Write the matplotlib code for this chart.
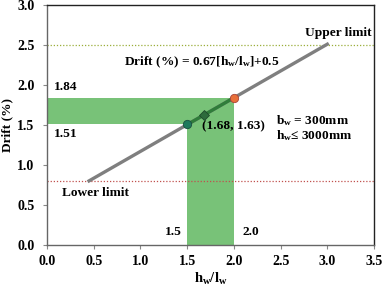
import matplotlib
matplotlib.use("Agg")
import matplotlib.pyplot as plt
import numpy as np

plt.rcParams['font.family'] = ['Liberation Serif', 'DejaVu Serif']
plt.rcParams['font.weight'] = 'bold'
plt.rcParams['mathtext.fontset'] = 'custom'
plt.rcParams['mathtext.rm'] = 'Liberation Serif:bold'
plt.rcParams['mathtext.it'] = 'Liberation Serif:bold'
plt.rcParams['mathtext.bf'] = 'Liberation Serif:bold'

# data
slope = 0.67
intercept = 0.5
line_x = [0.45, 3.0]
range_x = [1.5, 2.0]
range_y = [1.51, 1.84]
mean_pt = (1.68, 1.63)
upper_limit = 2.5
lower_limit = 0.8
xticks = [0.0, 0.5, 1.0, 1.5, 2.0, 2.5, 3.0, 3.5]
yticks = [0.0, 0.5, 1.0, 1.5, 2.0, 2.5, 3.0]

fig = plt.figure(figsize=(3.83, 2.89), dpi=100)
ax = fig.add_axes([0.1227, 0.1522, 0.8538, 0.8305])

green = '#78c278'
# shaded bands
ax.fill_between([0, range_x[1]], range_y[0], range_y[1], color=green, lw=0, zorder=1)
ax.fill_between(range_x, 0, range_y[0], color=green, lw=0, zorder=1)

# limits
ax.axhline(upper_limit, color='#9aae3a', ls=(0, (1, 1.5)), lw=0.9, zorder=2)
ax.axhline(lower_limit, color='#c0504d', ls=(0, (1, 1.5)), lw=0.9, zorder=2)

# trend line
lx = np.array(line_x)
ax.plot(lx, slope * lx + intercept, color='#7f7f7f', lw=2.4, zorder=3)
rx = np.array(range_x)
ax.plot(rx, slope * rx + intercept, color='#2f7d3a', lw=2.4, zorder=4)

ax.plot(range_x[0], range_y[0], 'o', ms=6, mfc='#1f7a5c', mec='#1b4f40', mew=0.6, zorder=5)
ax.plot(range_x[1], range_y[1], 'o', ms=6, mfc='#e8703a', mec='#a8443a', mew=0.6, zorder=5)
ax.plot(mean_pt[0], mean_pt[1], 'D', ms=5, mfc='#2d6b3c', mec='#1d4a2a', mew=0.6, zorder=5)

fs = 9.6
ax.text(0.2, 1.97, '1.84', fontsize=fs, fontweight='bold', ha='center', va='center')
ax.text(0.2, 1.39, '1.51', fontsize=fs, fontweight='bold', ha='center', va='center')
ax.text(1.355, 0.16, '1.5', fontsize=fs, fontweight='bold', ha='center', va='center')
ax.text(2.18, 0.16, '2.0', fontsize=fs, fontweight='bold', ha='center', va='center')
ax.text(1.66, 1.49, '(1.68, 1.63)', fontsize=fs, fontweight='bold', ha='left', va='center')
ax.text(2.45, 1.56, r'b$_\mathrm{w}$ = 300mm', fontsize=fs, fontweight='bold', ha='left', va='center')
ax.text(2.45, 1.37, r'h$_\mathrm{w}$≤ 3000mm', fontsize=fs, fontweight='bold', ha='left', va='center')
ax.text(3.47, 2.65, 'Upper limit', fontsize=fs, fontweight='bold', ha='right', va='center')
ax.text(0.16, 0.65, 'Lower limit', fontsize=fs, fontweight='bold', ha='left', va='center')
ax.text(0.82, 2.28, r'Drift (%) = 0.67[h$_\mathrm{w}$/l$_\mathrm{w}$]+0.5', fontsize=fs, fontweight='bold', ha='left', va='center')

ax.set_xlim(0, 3.5)
ax.set_ylim(0, 3.0)
ax.set_xticks(xticks)
ax.set_yticks(yticks)
ax.set_xticklabels([f'{t:.1f}' for t in xticks], fontsize=10, fontweight='bold')
ax.set_yticklabels([f'{t:.1f}' for t in yticks], fontsize=10, fontweight='bold')
ax.tick_params(direction='out', length=3, width=0.8, colors='#000000', color='#888888')
ax.tick_params(axis='x', pad=4)
ax.tick_params(axis='y', pad=6)
ax.set_xlabel(r'h$_\mathrm{w}$/l$_\mathrm{w}$', fontsize=10.5, fontweight='bold', labelpad=2)
ax.set_ylabel('Drift (%)', fontsize=9.6, fontweight='bold', labelpad=3)
for s in ['top', 'right']:
    ax.spines[s].set_color('#222222')
for s in ['left', 'bottom']:
    ax.spines[s].set_color('#666666')
for s in ax.spines.values():
    s.set_linewidth(1.0)

fig.savefig('out.png', dpi=100)
